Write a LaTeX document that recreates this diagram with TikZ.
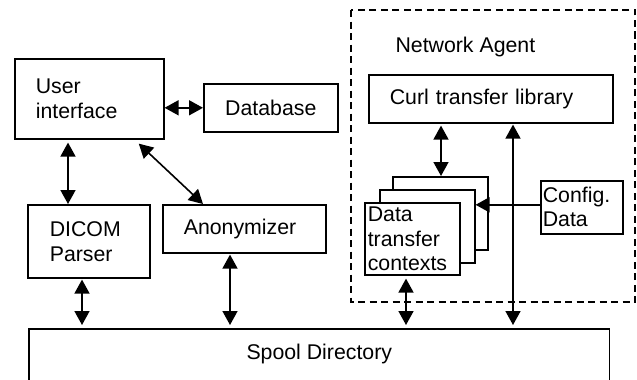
\documentclass[tikz,border=0pt]{standalone}
\usepackage{fontspec}
\setmainfont{Liberation Sans}
\usetikzlibrary{arrows.meta}

\begin{document}
\begin{tikzpicture}[x = 1pt, y = -1pt]
\tikzstyle{BoxStyle}=[shape = rectangle,
                      draw,
                      line width = 1.6pt,
                      inner sep = 0pt,
                      anchor = north west,
                      font = \fontsize{21.3}{25}\selectfont]
\tikzstyle{LeftBox}=[BoxStyle, align = left, inner xsep = 21pt]
\tikzstyle{TightBox}=[BoxStyle, align = left, inner xsep = 3pt,
                      font = \fontsize{21.3}{24.5}\selectfont]
\tikzstyle{Link}=[line width = 1.6pt, >={Triangle[length = 14pt, width = 15pt]}]
\useasboundingbox (0,0) rectangle (637,380);
\draw[line width = 1.5pt, dash pattern = on 7pt off 4.5pt] (351,10) rectangle (635,302);
\node[anchor = west, font = \fontsize{21.3}{25}\selectfont] (agent) at (392,47) {Network Agent};
\node[LeftBox, text width = 107pt, minimum height = 80pt] (ui) at (14,58) {User\\interface};
\node[BoxStyle, minimum width = 134pt, minimum height = 48pt] (db) at (203,83) {Database};
\node[LeftBox, inner xsep = 22pt, text width = 78pt, minimum height = 73pt] (dicom) at (27,204) {DICOM\\Parser};
\node[LeftBox, text width = 121pt, minimum height = 48pt] (anon) at (162,204) {Anonymizer};
\node[LeftBox, text width = 202pt, minimum height = 48pt] (curl) at (368,74) {Curl transfer library};
\node[BoxStyle, fill = white, minimum width = 95pt, minimum height = 73pt] (back) at (392,176) {};
\node[BoxStyle, fill = white, minimum width = 95pt, minimum height = 73pt] (mid) at (379,189) {};
\node[TightBox, fill = white, text width = 89pt, minimum height = 72pt] (dtc) at (364,202) {Data\\transfer\\contexts};
\node[TightBox, inner xsep = 2pt, text width = 78pt, minimum height = 53pt, font = \fontsize{21.3}{24}\selectfont] (cfg) at (540,180) {Config.\\Data};
\node[BoxStyle, draw = none, minimum width = 579pt, minimum height = 48pt] (spool) at (29,329) {Spool Directory};
\draw[line width = 1.6pt] ([yshift = -12pt]spool.south west) -- (spool.north west) -- (spool.north east) -- ([yshift = -12pt]spool.south east);
\draw[Link, <->] (ui.east |- db.west) -- (db.west);
\draw[Link, <->, shorten < = 3pt] ([xshift = 41pt]dicom.north west |- ui.south) -- ([xshift = 41pt]dicom.north west);
\draw[Link, <->, shorten < = 3pt] ([xshift = -28pt, yshift = -2pt]ui.south east) -- ([xshift = 41pt]anon.north west);
\draw[Link, <->, shorten < = 1pt, shorten > = 4pt] ([xshift = 55pt]dicom.south west) -- ([xshift = 55pt]dicom.south west |- spool.north);
\draw[Link, <->, shorten < = 1pt, shorten > = 4pt] ([xshift = 68pt]anon.south west) -- ([xshift = 68pt]anon.south west |- spool.north);
\draw[Link, <->, shorten < = 3pt, shorten > = 4pt] ([xshift = 42pt]dtc.south west) -- ([xshift = 42pt]dtc.south west |- spool.north);
\draw[Link, <->, shorten < = 2pt] ([xshift = 49pt]back.north west |- curl.south) -- ([xshift = 49pt]back.north west);
\draw[Link, <->, shorten < = 1pt, shorten > = 4pt] ([xshift = 145pt]curl.south west) -- ([xshift = 145pt]curl.south west |- spool.north);
\draw[Link, ->] ([yshift = 2.5pt]cfg.west) -- ([yshift = 2.5pt]mid.east |- cfg.west);
\end{tikzpicture}
\end{document}
